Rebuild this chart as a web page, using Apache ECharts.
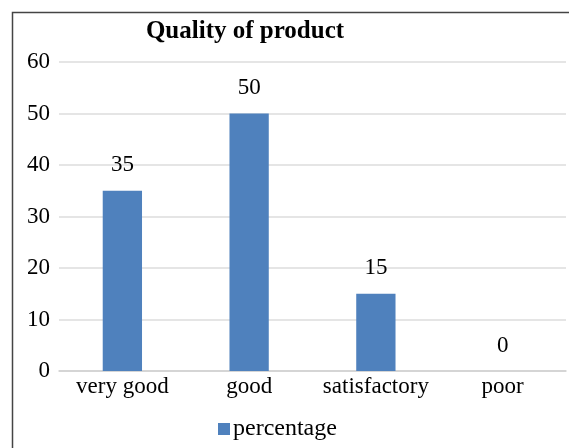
<!DOCTYPE html>
<html><head><meta charset="utf-8">
<script src="https://cdn.jsdelivr.net/npm/echarts@6/dist/echarts.min.js"></script>
<style>html,body{margin:0;padding:0;background:#fff}#c{width:569px;height:448px}</style>
</head><body><div id="c"></div>
<script>
const categories = ['very good', 'good', 'satisfactory', 'poor'];
const percentage = [35, 50, 15, 0];
const yTicks = [0, 10, 20, 30, 40, 50, 60];

const chart = echarts.init(document.getElementById('c'), null, {renderer: 'canvas'});
const font = 'Liberation Serif';
chart.setOption({
  animation: false,
  textStyle: {fontFamily: font},
  graphic: [{
    type: 'rect', left: 10, top: 10, shape: {width: 600, height: 500},
    style: {fill: 'none', stroke: '#444', lineWidth: 1.5}, z: 10
  }],
  title: {
    text: 'Quality of product', left: 245, top: 19, textAlign: 'center', padding: 0,
    textStyle: {fontFamily: font, fontWeight: 'bold', fontSize: 25, color: '#000'}
  },
  legend: {
    data: ['percentage'], top: 417, left: 218, padding: 0, itemWidth: 12, itemHeight: 12, itemGap: 2,
    icon: 'rect',
    textStyle: {fontFamily: font, fontSize: 24, color: '#000', padding: [0, 0, 0, -2]}
  },
  grid: {left: 59, right: 3, top: 62, bottom: 77},
  xAxis: {
    type: 'category', data: categories,
    axisLine: {lineStyle: {color: '#d0d0d0', width: 1.5}},
    axisTick: {show: false},
    axisLabel: {interval: 0, fontFamily: font, fontSize: 23, color: '#000', margin: 4}
  },
  yAxis: {
    type: 'value', min: yTicks[0], max: yTicks[yTicks.length - 1], interval: 10,
    axisLine: {show: false}, axisTick: {show: false},
    splitLine: {lineStyle: {color: '#dcdcdc', width: 1.5}},
    axisLabel: {fontFamily: font, fontSize: 23, color: '#000', margin: 9}
  },
  series: [{
    name: 'percentage', type: 'bar', data: percentage, barWidth: '31%',
    itemStyle: {color: '#4f81bd'},
    label: {show: true, position: 'top', distance: 14, fontFamily: font, fontSize: 23, color: '#000'}
  }]
});
</script></body></html>
